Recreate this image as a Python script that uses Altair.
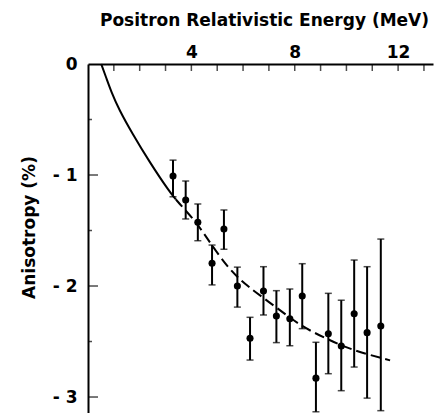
import altair as alt
import pandas as pd

# Measured data points (Positron relativistic energy, MeV) and anisotropy (%)
energy = [3.29, 3.78, 4.25, 4.80, 5.26, 5.78, 6.27, 6.79, 7.29, 7.81, 8.29, 8.82, 9.30, 9.80, 10.30, 10.80, 11.33]
aniso = [-1.01, -1.225, -1.425, -1.795, -1.486, -2.0, -2.47, -2.045, -2.27, -2.295, -2.09, -2.83, -2.43, -2.54, -2.25, -2.42, -2.36]
err_hi = [-0.866, -1.054, -1.261, -1.631, -1.315, -1.83, -2.282, -1.826, -2.042, -2.027, -1.799, -2.507, -2.066, -2.128, -1.766, -1.826, -1.577]
err_lo = [-1.196, -1.396, -1.592, -1.99, -1.669, -2.19, -2.667, -2.261, -2.51, -2.538, -2.384, -3.133, -2.79, -2.943, -2.73, -3.01, -3.123]

# Theory curve (solid part then dashed part)
curve_solid_x = [0.51, 0.70, 0.90, 1.20, 1.70, 2.40, 3.15, 3.40]
curve_solid_y = [0.0, -0.12, -0.25, -0.41, -0.62, -0.89, -1.15, -1.22]
curve_dash_x = [3.40, 3.66, 4.24, 4.69, 5.46, 6.10, 7.27, 8.29, 9.20, 10.10, 11.69]
curve_dash_y = [-1.22, -1.29, -1.44, -1.60, -1.85, -1.99, -2.19, -2.37, -2.47, -2.57, -2.67]

x_minor_ticks = list(range(1, 14))
y_major_ticks = [-1, -2, -3]
y_minor_ticks = [-0.5, -1.5, -2.5]
x_labels = [4, 8, 12]
y_labels = [0, -1, -2, -3]

pts = pd.DataFrame({"E": energy, "A": aniso, "hi": err_hi, "lo": err_lo})
solid = pd.DataFrame({"E": curve_solid_x, "A": curve_solid_y})
dash = pd.DataFrame({"E": curve_dash_x, "A": curve_dash_y})
xt = pd.DataFrame({"v": x_minor_ticks})
ymaj = pd.DataFrame({"v": y_major_ticks})
ymin = pd.DataFrame({"v": y_minor_ticks})

FONT = "DejaVu Sans"
xscale = alt.Scale(domain=[0, 13.35], nice=False, zero=False)
yscale = alt.Scale(domain=[-3.144, 0], nice=False, zero=False)

xaxis = alt.Axis(orient="top", values=x_labels, ticks=False, tickSize=0, grid=False,
                 domainColor="black", domainWidth=2, labelFont=FONT, labelFontSize=17,
                 labelFontWeight="bold", labelColor="black", labelPadding=3,
                 title="Positron Relativistic Energy (MeV)", titleFont=FONT,
                 titleFontSize=17, titleFontWeight="bold", titleColor="black",
                 titlePadding=14, titleX=176)
yaxis = alt.Axis(orient="left", values=y_labels, ticks=False, tickSize=0, grid=False,
                 domainColor="black", domainWidth=2, labelFont=FONT, labelFontSize=17,
                 labelFontWeight="bold", labelColor="black", labelPadding=11,
                 labelExpr="datum.value == 0 ? '0' : '- ' + abs(datum.value)",
                 title="Anisotropy (%)", titleFont=FONT, titleFontSize=17,
                 titleFontWeight="bold", titleColor="black", titleAngle=-90,
                 titleX=-59, titleY=163, titleAlign="center", titleBaseline="middle")

base_x = alt.X("E:Q", scale=xscale, axis=xaxis)
base_y = alt.Y("A:Q", scale=yscale, axis=yaxis)

solid_line = alt.Chart(solid).mark_line(color="black", strokeWidth=2, interpolate="basis").encode(
    x=base_x, y=base_y)
dash_line = alt.Chart(dash).mark_line(color="black", strokeWidth=2, interpolate="basis",
                                      strokeDash=[10, 5]).encode(x="E:Q", y="A:Q")
bars = alt.Chart(pts).mark_rule(color="black", strokeWidth=2).encode(
    x="E:Q", y="lo:Q", y2="hi:Q")
cap_hi = alt.Chart(pts).mark_tick(color="black", orient="horizontal", size=7, thickness=1.5).encode(
    x="E:Q", y="hi:Q")
cap_lo = alt.Chart(pts).mark_tick(color="black", orient="horizontal", size=7, thickness=1.5).encode(
    x="E:Q", y="lo:Q")
dots = alt.Chart(pts).mark_point(filled=True, color="black", size=50, opacity=1).encode(
    x="E:Q", y="A:Q")
xticks = alt.Chart(xt).mark_tick(color="black", orient="vertical", size=7, thickness=1.5).encode(
    x="v:Q", y=alt.value(3.5))
ymajor = alt.Chart(ymaj).mark_tick(color="black", orient="horizontal", size=10, thickness=1.5).encode(
    y="v:Q", x=alt.value(5))
yminor = alt.Chart(ymin).mark_tick(color="black", orient="horizontal", size=4, thickness=1.5).encode(
    y="v:Q", x=alt.value(2))

chart = alt.layer(solid_line, dash_line, bars, cap_hi, cap_lo, dots, xticks, ymajor, yminor).properties(
    width=345, height=349,
    autosize=alt.AutoSizeParams(type="none"),
    padding={"left": 88, "top": 64, "right": 12, "bottom": 0},
    background="white",
).configure_view(stroke=None)

chart.save("out.html", embed_options={"renderer": "svg", "actions": False})
